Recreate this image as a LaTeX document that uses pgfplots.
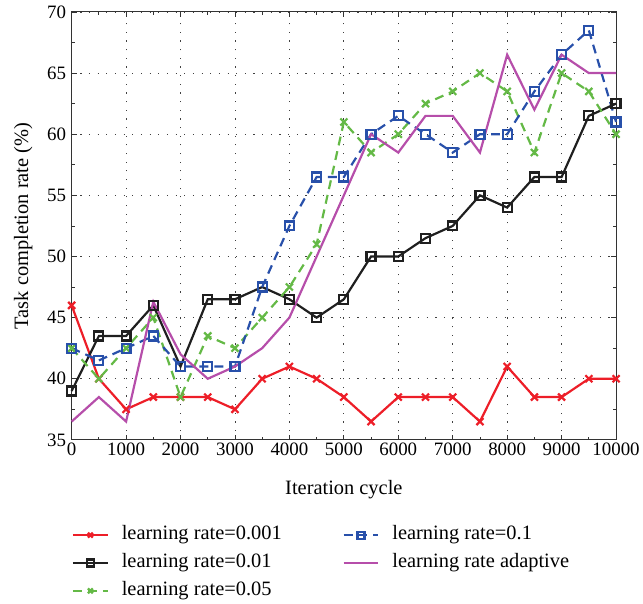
\documentclass[border=0pt]{standalone}
\usepackage{pgfplots}
\pgfplotsset{compat=1.18}
\usepackage{fontspec}
\setmainfont{Liberation Serif}
\definecolor{cred}{RGB}{237,30,40}
\definecolor{cgreen}{RGB}{100,185,70}
\definecolor{cblue}{RGB}{40,80,170}
\definecolor{cmag}{RGB}{182,78,170}
\begin{document}
\begin{tikzpicture}
\begin{axis}[
  scale only axis,
  width=547pt, height=430pt,
  xmin=0, xmax=10000, ymin=35, ymax=70,
  xtick={0,1000,...,10000},
  ytick={35,40,...,70},
  minor x tick num=1, minor y tick num=1,
  tick align=inside,
  major tick length=5pt, minor tick length=3pt,
  xmajorgrids, ymajorgrids,
  grid style={black!75, dash pattern=on 1.2pt off 7.5pt, line width=0.8pt},
  axis line style={black!80, line width=0.9pt},
  tick style={black!80, line width=0.8pt},
  scaled x ticks=false,
  xticklabel style={/pgf/number format/.cd, 1000 sep={}},
  /pgf/number format/assume math mode=true,
  tick label style={font=\fontsize{19}{21}\selectfont},
  yticklabel style={xshift=-2pt},
  label style={font=\fontsize{20.5}{23}\selectfont},
  xlabel={Iteration cycle},
  ylabel={Task completion rate (\%)},
  xlabel style={yshift=-17pt},
  ylabel style={yshift=8pt},
  legend style={draw=none, fill=none, font=\fontsize{20.5}{23}\selectfont,
    at={(0,-0.2)}, anchor=north west,
    inner sep=0pt,
    nodes={inner sep=0pt, text height=14pt, text depth=5pt},
    /tikz/every odd column/.append style={column sep=13pt},
    /tikz/every even column/.append style={column sep=61pt},
    row sep=9pt},
  legend image code/.code={\draw[mark repeat=2,mark phase=2,mark size=3.5pt] plot coordinates {(0pt,0pt)(17.5pt,0pt)(35pt,0pt)};},
  legend columns=3, transpose legend,
  legend cell align=left,
  every axis plot/.append style={line width=2.2pt},
  clip=false,
]
\addplot[cred, mark=x, mark size=5pt, mark options={solid}] coordinates {
(0,46) (500,40) (1000,37.5) (1500,38.5) (2000,38.5) (2500,38.5) (3000,37.5) (3500,40) (4000,41) (4500,40) (5000,38.5) (5500,36.5) (6000,38.5) (6500,38.5) (7000,38.5) (7500,36.5) (8000,41) (8500,38.5) (9000,38.5) (9500,40) (10000,40)};
\addlegendentry{learning rate=0.001}
\addplot[black!88, mark=square, mark size=4.5pt, mark options={solid}] coordinates {
(0,39) (500,43.5) (1000,43.5) (1500,46) (2000,41) (2500,46.5) (3000,46.5) (3500,47.5) (4000,46.5) (4500,45) (5000,46.5) (5500,50) (6000,50) (6500,51.5) (7000,52.5) (7500,55) (8000,54) (8500,56.5) (9000,56.5) (9500,61.5) (10000,62.5)};
\addlegendentry{learning rate=0.01}
\addplot[cgreen, dash pattern=on 9pt off 6pt, mark=x, mark size=5pt, mark options={solid}] coordinates {
(0,42.5) (500,40) (1000,42.5) (1500,45) (2000,38.5) (2500,43.5) (3000,42.5) (3500,45) (4000,47.5) (4500,51) (5000,61) (5500,58.5) (6000,60) (6500,62.5) (7000,63.5) (7500,65) (8000,63.5) (8500,58.5) (9000,65) (9500,63.5) (10000,60)};
\addlegendentry{learning rate=0.05}
\addplot[cblue, dash pattern=on 9pt off 6pt, mark=square, mark size=4.5pt, mark options={solid}] coordinates {
(0,42.5) (500,41.5) (1000,42.5) (1500,43.5) (2000,41) (2500,41) (3000,41) (3500,47.5) (4000,52.5) (4500,56.5) (5000,56.5) (5500,60) (6000,61.5) (6500,60) (7000,58.5) (7500,60) (8000,60) (8500,63.5) (9000,66.5) (9500,68.5) (10000,61)};
\addlegendentry{learning rate=0.1}
\addplot[cmag] coordinates {
(0,36.5) (500,38.5) (1000,36.5) (1500,46.3) (2000,42) (2500,40) (3000,41) (3500,42.5) (4000,45) (4500,50) (5000,55) (5500,60) (6000,58.5) (6500,61.5) (7000,61.5) (7500,58.5) (8000,66.5) (8500,62) (9000,66.5) (9500,65) (10000,65)};
\addlegendentry{learning rate adaptive}
\end{axis}
\path (current axis.south west) ++(-72pt,-164pt);
\path (current axis.north east) ++(24pt,12pt);
\end{tikzpicture}
\end{document}
